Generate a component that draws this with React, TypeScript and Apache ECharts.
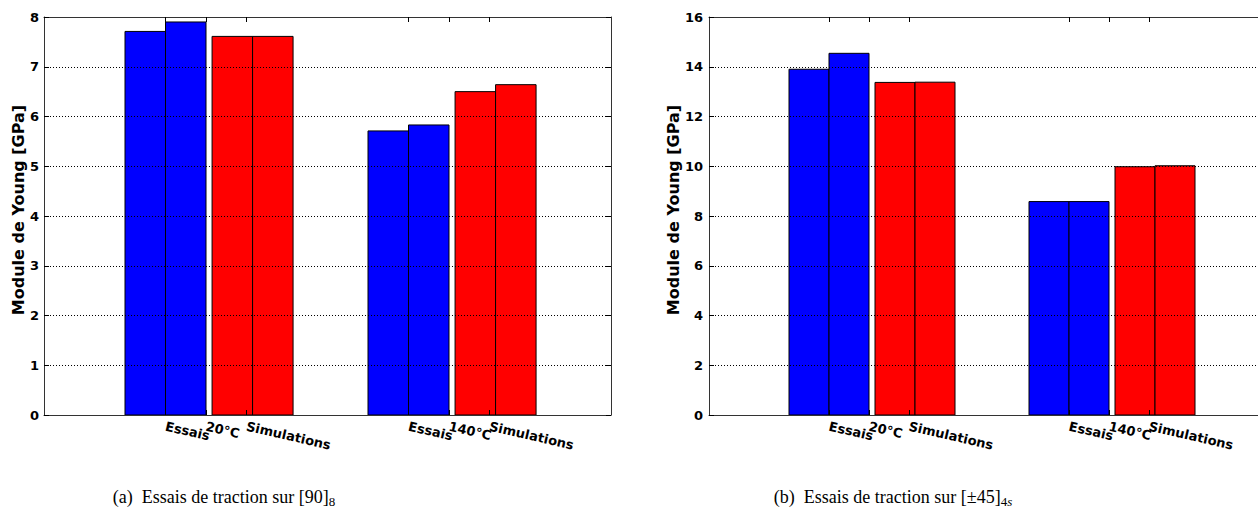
import React, { useEffect, useRef } from 'react';
import * as echarts from 'echarts';

// ---- data ----
const temperatures = ['20°C', '140°C'];
const tickNames = ['Essais', 'Simulations'];
const essais90 = [[7.71, 7.9], [5.71, 5.83]];
const simulations90 = [[7.61, 7.61], [6.5, 6.64]];
const essais45 = [[13.9, 14.54], [8.58, 8.58]];
const simulations45 = [[13.37, 13.38], [9.98, 10.02]];
const yMax90 = 8;
const yStep90 = 1;
const yMax45 = 16;
const yStep45 = 2;
const yLabel = 'Module de Young [GPa]';
const captionA = '(a)  Essais de traction sur [90]{sub|8}';
const captionB = '(b)  Essais de traction sur [±45]{sub|4}{subi|s}';

// ---- layout constants ----
const BAR_W = 1 / 6;
const GAP = 0.025;
const X_MIN = -1 / 3;
const X_MAX = 2;
const FONT = 'DejaVu Sans';
const COLORS = ['#0000ff', '#ff0000'];

function barData(essais: number[][], sims: number[][]) {
  const out: number[][] = [];
  essais.forEach((pair, g) =>
    pair.forEach((v, k) => out.push([g + k * BAR_W, g + (k + 1) * BAR_W, v, 0]))
  );
  sims.forEach((pair, g) =>
    pair.forEach((v, k) => {
      const x0 = g + 2 * BAR_W + GAP + k * BAR_W;
      out.push([x0, x0 + BAR_W, v, 1]);
    })
  );
  return out;
}

// tick positions: Essais / temperature / Simulations for each group
const nameTickValues: number[] = [];
const nameTickTexts: string[] = [];
const tempTickValues: number[] = [];
const tempTickTexts: string[] = [];
temperatures.forEach((t, g) => {
  nameTickValues.push(g + BAR_W, g + 3 * BAR_W);
  nameTickTexts.push(tickNames[0], tickNames[1]);
  tempTickValues.push(g + 2 * BAR_W);
  tempTickTexts.push(t);
});
const allTickValues = [...nameTickValues, ...tempTickValues].sort((a, b) => a - b);

const makeFormatter = (vals: number[], texts: string[]) => (val: number) => {
  const i = vals.findIndex((v) => Math.abs(v - val) < 1e-4);
  return i >= 0 ? texts[i] : '';
};

const axisLineStyle = { color: '#333', width: 1 };

const xLabelStyle = {
  show: true,
  hideOverlap: false,
  showMinLabel: true,
  showMaxLabel: true,
  rotate: -13,
  margin: 11,
  fontFamily: FONT,
  fontWeight: 'bold',
  fontSize: 13,
  color: '#000',
};

function xAxes(gi: number) {
  return [
    {
      type: 'value',
      gridIndex: gi,
      min: X_MIN,
      max: X_MAX,
      position: 'bottom',
      z: 5,
      axisLine: { show: true, onZero: false, lineStyle: axisLineStyle },
      axisTick: { show: true, inside: true, length: 5, customValues: allTickValues, lineStyle: { color: '#000' } },
      axisLabel: {
        ...xLabelStyle,
        customValues: nameTickValues,
        formatter: makeFormatter(nameTickValues, nameTickTexts),
      },
      splitLine: { show: false },
    },
    {
      type: 'value',
      gridIndex: gi,
      min: X_MIN,
      max: X_MAX,
      position: 'bottom',
      offset: 0,
      z: 5,
      axisLine: { show: false, onZero: false },
      axisTick: { show: false },
      axisLabel: {
        ...xLabelStyle,
        customValues: tempTickValues,
        formatter: makeFormatter(tempTickValues, tempTickTexts),
      },
      splitLine: { show: false },
    },
    {
      type: 'value',
      gridIndex: gi,
      min: X_MIN,
      max: X_MAX,
      position: 'top',
      z: 5,
      axisLine: { show: true, onZero: false, lineStyle: axisLineStyle },
      axisTick: { show: true, inside: true, length: 5, customValues: allTickValues, lineStyle: { color: '#000' } },
      axisLabel: { show: false },
      splitLine: { show: false },
    },
  ];
}

function yAxes(gi: number, max: number, step: number, nameGap: number, margin: number) {
  return [
    {
      type: 'value',
      gridIndex: gi,
      min: 0,
      max,
      interval: step,
      position: 'left',
      z: 5,
      name: yLabel,
      nameLocation: 'middle',
      nameRotate: 90,
      nameGap,
      nameTextStyle: {
        fontFamily: FONT,
        fontWeight: 'bold',
        fontSize: 16,
        color: '#000',
        padding: [0, 0, 0, 12],
      },
      axisLine: { show: true, onZero: false, lineStyle: axisLineStyle },
      axisTick: { show: true, inside: true, length: 5, lineStyle: { color: '#000' } },
      axisLabel: { margin, fontFamily: FONT, fontWeight: 'bold', fontSize: 13, color: '#000' },
      splitLine: { show: true, lineStyle: { type: [1, 2], color: '#000', width: 1 } },
    },
    {
      type: 'value',
      gridIndex: gi,
      min: 0,
      max,
      interval: step,
      position: 'right',
      z: 5,
      axisLine: { show: true, onZero: false, lineStyle: axisLineStyle },
      axisTick: { show: true, inside: true, length: 5, lineStyle: { color: '#000' } },
      axisLabel: { show: false },
      splitLine: { show: false },
    },
  ];
}

const renderBar = (params: any, api: any) => {
  const top = api.coord([api.value(0), api.value(2)]);
  const bottom = api.coord([api.value(1), 0]);
  return {
    type: 'rect',
    shape: { x: top[0], y: top[1], width: bottom[0] - top[0], height: bottom[1] - top[1] },
    style: { fill: COLORS[api.value(3)], stroke: '#000', lineWidth: 1 },
  };
};

function barSeries(gi: number, data: number[][]) {
  return {
    type: 'custom',
    xAxisIndex: gi * 3,
    yAxisIndex: gi * 2,
    data,
    encode: { x: [0, 1], y: 2 },
    z: 1,
    renderItem: renderBar,
  };
}

const captionStyle = (text: string) => ({
  text,
  fontFamily: 'Liberation Serif',
  fontSize: 18,
  lineHeight: 21,
  fill: '#000',
  align: 'center',
  verticalAlign: 'middle',
  rich: {
    sub: { fontFamily: 'Liberation Serif', fontSize: 13, lineHeight: 13, verticalAlign: 'bottom', fill: '#000' },
    subi: {
      fontFamily: 'Liberation Serif',
      fontSize: 13,
      lineHeight: 13,
      fontStyle: 'italic',
      verticalAlign: 'bottom',
      fill: '#000',
    },
  },
});

export default function App() {
  const ref = useRef<HTMLDivElement>(null);
  useEffect(() => {
    if (!ref.current) return;
    const chart = echarts.init(ref.current, null, { renderer: 'svg' });
    chart.setOption({
      animation: false,
      backgroundColor: '#fff',
      grid: [
        { left: 44, top: 17, width: 567, height: 398 },
        { left: 709, top: 17, width: 560, height: 398 },
      ],
      xAxis: [...xAxes(0), ...xAxes(1)],
      yAxis: [
        ...yAxes(0, yMax90, yStep90, 18, 5),
        ...yAxes(1, yMax45, yStep45, 28, 6),
      ],
      series: [barSeries(0, barData(essais90, simulations90)), barSeries(1, barData(essais45, simulations45))],
      graphic: [
        { type: 'text', x: 224, y: 497, style: captionStyle(captionA) },
        { type: 'text', x: 893, y: 497, style: captionStyle(captionB) },
      ],
    } as any);
    return () => chart.dispose();
  }, []);
  return (
    <div style={{ position: 'absolute', left: 0, top: 0, width: 1258, height: 512, overflow: 'hidden', background: '#fff' }}>
      <div ref={ref} style={{ width: 1272, height: 512 }} />
    </div>
  );
}
